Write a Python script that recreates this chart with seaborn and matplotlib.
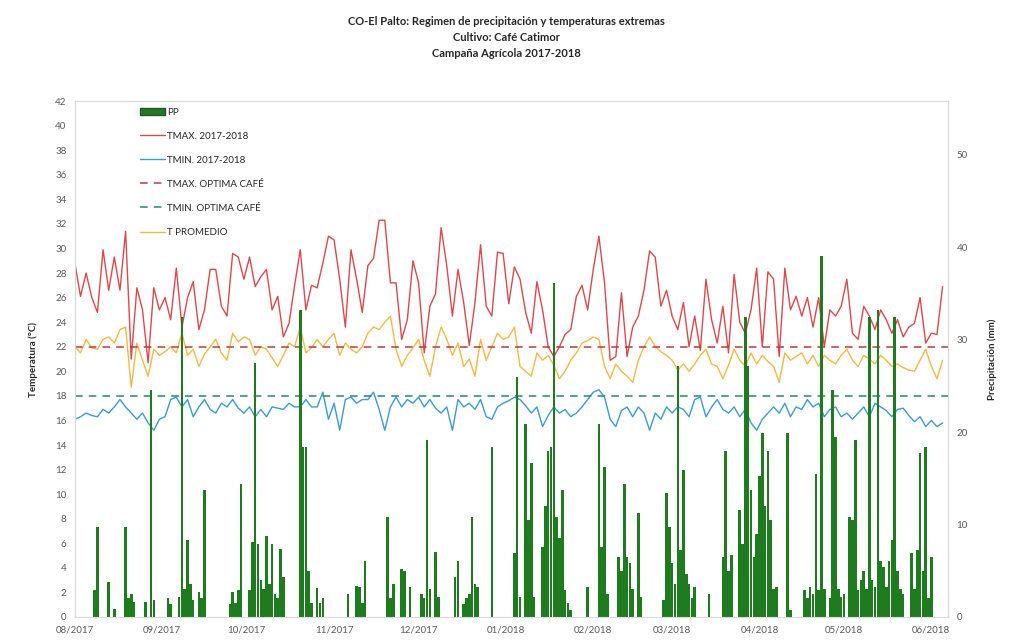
import numpy as np
import pandas as pd
import matplotlib
matplotlib.use("Agg")
import matplotlib.pyplot as plt
import matplotlib.dates as mdates
from matplotlib.lines import Line2D
from matplotlib.patches import Patch
import seaborn as sns

# campaign start; temperatures read every 2 days, rain as daily events
START = "2017-08-01"

tmax = [28.8, 26.1, 28.0, 26.0, 24.8, 29.9, 26.6, 29.3, 26.6, 31.4,
        21.0, 26.8, 25.0, 20.7, 26.8, 25.0, 26.0, 24.2, 28.4, 23.6,
        26.0, 27.3, 23.4, 25.0, 28.3, 28.3, 25.3, 24.5, 29.6, 29.3,
        27.5, 29.3, 26.9, 27.7, 28.3, 25.0, 26.1, 22.8, 23.9, 27.0,
        29.9, 25.0, 27.0, 26.8, 28.8, 31.0, 30.7, 27.5, 23.6, 29.9,
        27.5, 24.8, 28.6, 29.2, 32.3, 32.3, 27.2, 27.2, 22.6, 24.2,
        29.0, 27.2, 21.5, 25.3, 26.3, 31.7, 28.6, 24.5, 28.3, 25.6,
        22.1, 25.6, 30.3, 25.3, 24.5, 29.7, 29.6, 25.5, 28.5,
        27.5, 24.8, 23.1, 27.3, 25.0, 22.0, 21.2, 22.0, 23.0, 23.4,
        26.1, 27.0, 25.0, 28.3, 31.0, 27.2, 20.9, 21.2, 26.4, 21.2,
        23.6, 24.5, 26.6, 29.8, 29.3, 25.3, 26.6, 24.5, 23.4, 25.6,
        22.0, 24.5, 21.7, 27.5, 24.2, 22.3, 25.3, 21.5, 27.9, 24.0,
        23.1, 25.0, 28.4, 22.0, 28.1, 27.5, 21.2, 28.4, 25.0, 26.1,
        24.5, 26.0, 23.6, 26.0, 22.0, 25.0, 24.5, 25.3, 27.5, 23.1,
        22.6, 25.3, 24.5, 23.4, 25.0, 24.2, 23.1, 24.2, 22.8, 23.6,
        23.9, 26.0, 22.3, 23.1, 23.0, 26.9]

tmin = [16.1, 16.3, 16.6, 16.4, 16.3, 16.9, 16.6, 17.1, 17.7, 17.1,
        16.6, 16.1, 16.6, 15.8, 15.2, 16.1, 16.3, 17.7, 17.9, 17.1,
        17.7, 16.3, 17.1, 17.7, 16.9, 16.6, 17.4, 17.1, 17.7, 17.0,
        16.6, 17.1, 16.3, 16.9, 16.3, 17.1, 17.0, 16.9, 17.4, 17.1,
        17.1, 17.7, 17.1, 17.1, 18.3, 16.1, 17.4, 15.2, 17.7, 17.9,
        17.4, 17.7, 17.7, 18.3, 16.9, 15.2, 17.1, 17.9, 17.1, 17.7,
        17.4, 17.9, 17.1, 17.7, 17.0, 16.6, 17.1, 15.2, 17.7, 17.1,
        17.4, 16.9, 17.7, 16.3, 16.1, 17.1, 17.4, 17.6, 17.9,
        17.7, 17.2, 16.6, 17.1, 15.5, 16.4, 17.1, 16.6, 16.9, 16.3,
        16.6, 17.1, 17.7, 18.3, 18.5, 17.9, 16.1, 15.5, 16.8, 17.1,
        16.3, 17.1, 16.6, 15.2, 16.6, 16.1, 17.1, 16.6, 17.1, 16.9,
        16.3, 17.7, 17.9, 16.3, 17.1, 17.7, 16.9, 16.6, 17.1, 16.3,
        16.9, 15.8, 15.2, 16.1, 16.6, 17.1, 16.6, 17.4, 16.3, 17.1,
        16.9, 17.7, 17.1, 17.4, 16.3, 16.9, 17.1, 16.3, 16.6, 16.1,
        16.6, 17.1, 16.3, 17.4, 17.1, 16.8, 16.3, 16.9, 17.0, 16.4,
        15.9, 16.3, 15.5, 16.0, 15.5, 15.8]

tmean = [22.0, 21.5, 22.6, 21.9, 21.8, 22.6, 22.8, 22.3, 23.4, 23.6,
         18.7, 22.3, 20.9, 19.6, 21.8, 21.3, 21.6, 22.0, 21.5, 23.1,
         21.3, 21.8, 20.4, 21.4, 22.0, 22.6, 21.5, 20.9, 23.1, 22.4,
         22.8, 22.6, 21.3, 22.0, 21.8, 21.1, 20.4, 21.3, 22.3, 22.0,
         23.6, 21.5, 21.9, 22.6, 22.0, 22.6, 23.1, 21.3, 22.3, 21.8,
         21.5, 22.0, 23.1, 23.6, 23.4, 24.0, 24.5, 21.8, 20.4, 21.3,
         21.9, 22.6, 20.9, 19.6, 22.0, 23.6, 22.6, 21.3, 22.3, 20.4,
         21.0, 19.6, 22.6, 20.9, 22.0, 23.1, 22.6, 22.8, 23.6,
         20.4, 20.0, 19.6, 21.5, 20.9, 21.3, 20.5, 19.4, 20.0, 20.9,
         21.5, 22.3, 22.5, 22.8, 22.6, 20.4, 19.4, 20.6, 20.0, 19.6,
         19.1, 20.9, 22.0, 22.8, 22.0, 21.6, 21.3, 20.9, 20.1, 20.6,
         20.0, 20.6, 21.3, 21.8, 20.6, 20.4, 19.4, 20.5, 21.8, 20.9,
         20.4, 21.5, 20.6, 21.3, 20.8, 20.4, 19.1, 21.5, 20.9, 21.2,
         21.5, 20.6, 21.3, 20.4, 21.3, 20.9, 20.6, 21.3, 21.8, 20.9,
         20.4, 21.3, 21.0, 20.6, 21.3, 20.9, 20.4, 20.6, 20.3, 20.1,
         20.0, 20.9, 21.8, 20.4, 19.4, 20.9]

# rainy days (day of campaign) and rainfall in mm
pp_day = [7, 8, 12, 14, 18, 19, 20, 21, 25, 27, 28, 33, 34, 37, 38, 39, 40,
          41, 42, 44, 45, 46, 55, 56, 57, 58, 59, 62, 63, 64, 65, 66, 67, 68,
          69, 70, 71, 72, 73, 74, 80, 81, 82, 83, 84, 86, 87, 88, 97, 100,
          101, 102, 103, 111, 112, 113, 116, 117, 119, 123, 124, 125, 126,
          128, 129, 135, 136, 138, 139, 140, 141, 142, 143, 148, 156, 157,
          158, 160, 161, 162, 163, 166, 167, 168, 169, 170, 171, 172, 173,
          174, 175, 176, 182, 186, 187, 188, 189, 193, 194, 195, 196, 197,
          198, 200, 201, 209, 210, 211, 212, 213, 214, 215, 216, 217, 218,
          219, 220, 225, 230, 231, 232, 233, 236, 237, 238, 239, 240, 241,
          242, 243, 244, 245, 246, 247, 248, 249, 253, 254, 259, 260, 261,
          262, 263, 264, 265, 266, 268, 269, 270, 271, 272, 273, 275, 276,
          277, 278, 279, 280, 281, 282, 283, 284, 285, 286, 287, 288, 289,
          290, 291, 292, 293, 294, 297, 298, 299, 300, 301, 302, 303, 304]
pp_mm = [2.9, 9.7, 3.8, 0.9, 9.7, 2.0, 2.5, 1.6, 1.6, 24.5, 1.8, 2.0, 1.4,
         2.2, 32.5, 3.0, 8.3, 3.6, 1.8, 2.7, 2.0, 13.7, 1.4, 2.7, 1.5, 2.9,
         14.4, 2.9, 8.1, 27.5, 7.9, 4.0, 3.0, 8.8, 3.6, 7.9, 2.5, 2.0, 7.4,
         4.3, 33.2, 18.4, 18.4, 5.0, 1.5, 3.1, 1.5, 2.0, 2.5, 3.4, 3.2, 1.5,
         6.0, 10.8, 2.0, 3.6, 5.2, 5.0, 3.2, 2.5, 2.0, 19.1, 3.0, 7.0, 2.2,
         4.3, 6.0, 1.4, 2.0, 2.5, 10.8, 3.6, 3.2, 18.4, 6.9, 26.0, 2.2, 20.9,
         10.5, 16.6, 2.2, 7.6, 12.0, 18.0, 18.4, 36.1, 10.8, 8.5, 13.7, 2.9,
         1.5, 0.7, 3.2, 20.9, 7.6, 16.2, 2.5, 6.5, 5.0, 14.4, 6.5, 5.8, 3.0,
         11.2, 2.2, 1.8, 13.4, 9.7, 5.8, 3.6, 27.1, 7.2, 15.9, 4.7, 3.6, 2.0,
         3.2, 2.5, 6.5, 18.0, 5.0, 6.7, 11.6, 7.9, 32.5, 27.1, 13.7, 6.5, 9.0,
         15.2, 19.9, 12.0, 18.0, 10.5, 3.0, 3.2, 19.9, 0.7, 2.9, 2.0, 3.2,
         2.5, 15.5, 2.9, 39.0, 3.0, 2.0, 24.5, 19.5, 3.0, 2.2, 2.5, 10.8,
         10.5, 19.1, 2.9, 4.0, 5.0, 3.0, 32.5, 4.0, 3.2, 33.2, 6.0, 5.4, 3.2,
         6.0, 8.3, 32.5, 5.0, 3.0, 2.5, 6.9, 3.0, 7.2, 17.7, 5.0, 18.4, 2.0,
         6.5]

TMAX_OPT = 22
TMIN_OPT = 18

labels = ["PP", "TMAX. 2017-2018", "TMIN. 2017-2018",
          "TMAX. OPTIMA CAFÉ", "TMIN. OPTIMA CAFÉ", "T PROMEDIO"]

C_PP = "#1e7b1e"
C_MAX = "#e0474c"
C_MIN = "#3a9ad9"
C_MAXOPT = "#b83a3a"
C_MINOPT = "#1f8a70"
C_MEAN = "#f4b942"


def build_frames():
    t_dates = pd.date_range(START, periods=len(tmax), freq="2D")
    temps = pd.DataFrame({"fecha": t_dates, "tmax": tmax,
                          "tmin": tmin, "tmean": tmean})
    rain = pd.DataFrame({"fecha": pd.Timestamp(START) + pd.to_timedelta(pp_day, unit="D"),
                         "pp": pp_mm})
    return temps, rain


def plot_chart(temps, rain):
    sns.set_theme(style="white")
    plt.rcParams["font.family"] = ["Lato", "DejaVu Sans"]

    fig = plt.figure(figsize=(10.12, 6.44), dpi=100)
    ax = fig.add_axes([0.074, 0.042, 0.863, 0.801])
    ax2 = ax.twinx()

    sns.lineplot(data=temps, x="fecha", y="tmax", ax=ax, color=C_MAX, lw=1.0, legend=False)
    sns.lineplot(data=temps, x="fecha", y="tmin", ax=ax, color=C_MIN, lw=1.0, legend=False)
    sns.lineplot(data=temps, x="fecha", y="tmean", ax=ax, color=C_MEAN, lw=1.0, legend=False)
    ax.axhline(TMAX_OPT, color=C_MAXOPT, lw=1.1, dashes=(5, 4))
    ax.axhline(TMIN_OPT, color=C_MINOPT, lw=1.1, dashes=(5, 4))

    ax2.bar(rain["fecha"], rain["pp"], width=0.9, color=C_PP, linewidth=0)

    ax.set_ylim(0, 42)
    ax.set_yticks(np.arange(0, 43, 2))
    ax2.set_ylim(0, 55.8)
    ax2.set_yticks(np.arange(0, 51, 10))

    ax.set_xlim(pd.Timestamp("2017-08-01"), pd.Timestamp("2018-06-07"))
    ax.xaxis.set_major_locator(mdates.MonthLocator())
    ax.xaxis.set_major_formatter(mdates.DateFormatter("%m/%Y"))

    for a in (ax, ax2):
        a.tick_params(labelsize=7, colors="#595959", length=0, pad=6)
        for s in a.spines.values():
            s.set_color("#d9d9d9")
            s.set_linewidth(0.8)
    ax.set_xlabel("")
    ax.set_ylabel("Temperatura (°C)", fontsize=7, fontweight="bold", labelpad=12)
    ax2.set_ylabel("Precipitación (mm)", fontsize=7, fontweight="bold", labelpad=14)

    handles = [Patch(facecolor=C_PP, edgecolor="#2f4f2f"),
               Line2D([], [], color=C_MAX, lw=1.0),
               Line2D([], [], color=C_MIN, lw=1.0),
               Line2D([], [], color=C_MAXOPT, lw=1.1, dashes=(5, 4)),
               Line2D([], [], color=C_MINOPT, lw=1.1, dashes=(5, 4)),
               Line2D([], [], color=C_MEAN, lw=1.0)]
    ax2.legend(handles, labels, loc="upper left", bbox_to_anchor=(0.07, 0.995),
               frameon=False, fontsize=7, labelspacing=1.55, handlelength=2.6,
               handletextpad=0.2, borderaxespad=0)

    fig.text(0.5, 0.975, "CO-El Palto: Regimen de precipitación y temperaturas extremas\n"
             "Cultivo: Café Catimor\nCampaña Agrícola 2017-2018",
             ha="center", va="top", fontsize=8, fontweight="bold",
             color="#262626", linespacing=1.55)

    fig.savefig("out.png", dpi=100)


if __name__ == "__main__":
    temps, rain = build_frames()
    plot_chart(temps, rain)
